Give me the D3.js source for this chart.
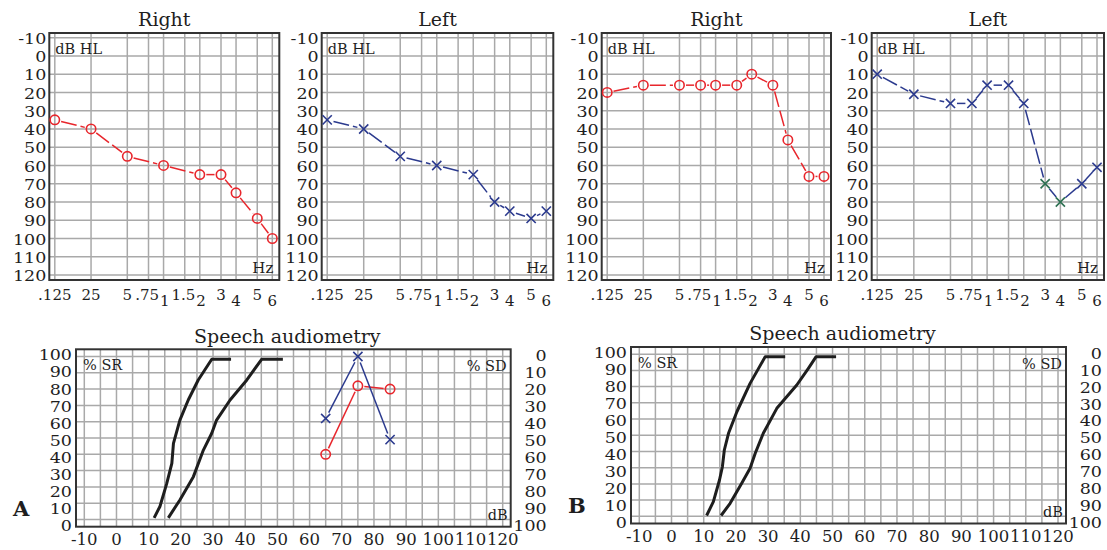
<!DOCTYPE html>
<html>
<head>
<meta charset="utf-8">
<script src="https://cdn.jsdelivr.net/npm/d3@7"></script>
<style>
  body { margin: 0; background: #fff; }
  svg { display: block; font-family: "DejaVu Serif", "Liberation Serif", serif; }
</style>
</head>
<body>
<svg id="chart" width="1107" height="550"></svg>
<script>
// ---- audiogram axes ----
const freqs = [0.125, 0.25, 0.5, 0.75, 1, 1.5, 2, 3, 4, 6, 8];
const freqLabels = [".125", "25", "5", ".75", "1", "1.5", "2", "3", "4", "5", "6"];
const freqLabelLow = [0, 0, 0, 0, 1, 0, 1, 0, 1, 0, 1];
const dbTicks = [-10, 0, 10, 20, 30, 40, 50, 60, 70, 80, 90, 100, 110, 120];

// ---- pure tone thresholds (dB HL) ----
const rightA_freq = [0.125, 0.25, 0.5, 1, 2, 3, 4, 6, 8];
const rightA_db   = [35, 40, 55, 60, 65, 65, 75, 89, 100];
const leftA_freq  = [0.125, 0.25, 0.5, 1, 2, 3, 4, 6, 8];
const leftA_db    = [35, 40, 55, 60, 65, 80, 85, 89, 85];
const rightB_freq = [0.125, 0.25, 0.5, 0.75, 1, 1.5, 2, 3, 4, 6, 8];
const rightB_db   = [20, 16, 16, 16, 16, 16, 10, 16, 46, 66, 66];
const leftB_freq  = [0.125, 0.25, 0.5, 0.75, 1, 1.5, 2, 3, 4, 6, 8];
const leftB_db    = [10, 21, 26, 26, 16, 16, 26, 70, 80, 70, 61];
const leftB_green = [0, 0, 0, 0, 0, 0, 0, 1, 1, 0, 0];

// ---- speech audiometry ----
const speechTicksX = [-10, 0, 10, 20, 30, 40, 50, 60, 70, 80, 90, 100, 110, 120];
const speechTicksY = [0, 10, 20, 30, 40, 50, 60, 70, 80, 90, 100];
const speechA_db      = [65, 75, 85];
const speechA_right   = [40, 82, 80];   // % SR, red
const speechA_left    = [62, 100, 49];  // % SR, blue

// reference curves (dB, %)
const normA1_db  = [11.7, 13.5, 15.6, 17.2, 17.7, 19.7, 22.3, 25.4, 29.6, 35.6];
const normA1_pct = [1, 8, 22, 34.5, 46.7, 61, 73.3, 85.6, 98.3, 98.3];
const normA2_db  = [16.1, 19.7, 23.9, 27, 29.6, 31.1, 35.3, 40.5, 45.1, 51.7];
const normA2_pct = [1, 12, 26.3, 42.6, 52.9, 61, 73.3, 85.6, 98.3, 98.3];
const normB1_db  = [10.9, 13, 14.9, 15.8, 16.4, 17.7, 20.3, 24.4, 29.1, 35.3];
const normB1_pct = [0.5, 9, 22.4, 30.6, 40.9, 51.2, 64.5, 82, 98.5, 98.5];
const normB2_db  = [15.4, 18.2, 21.8, 24.4, 26, 28.5, 32.7, 38.9, 42.5, 44.9, 51.1];
const normB2_pct = [0.5, 8, 20.4, 29.6, 38.9, 51.2, 66.6, 81, 91.3, 98.5, 98.5];

const RED = "#e8262c", BLUE = "#2b3a8e", GREEN = "#2d7052";
const GRID = "#a9a9a9", FRAME = "#333", INK = "#1e1e1e";

const svg = d3.select("#chart");

// segments between points, cut back near the markers
function gapped(pts, gap) {
  const segs = [];
  for (let i = 1; i < pts.length; i++) {
    const [ax, ay] = pts[i - 1], [bx, by] = pts[i];
    const dx = bx - ax, dy = by - ay, L = Math.hypot(dx, dy);
    if (L <= 2 * gap) continue;
    const ux = dx / L, uy = dy / L;
    segs.push([ax + ux * gap, ay + uy * gap, bx - ux * gap, by - uy * gap]);
  }
  return segs;
}

function drawSeries(g, pts, kind, dash, colors) {
  const col = kind === "o" ? RED : BLUE;
  g.append("g").selectAll("line").data(gapped(pts, 6.5)).join("line")
    .attr("x1", d => d[0]).attr("y1", d => d[1])
    .attr("x2", d => d[2]).attr("y2", d => d[3])
    .attr("stroke", col).attr("stroke-width", 1.5)
    .attr("stroke-dasharray", dash);
  const m = g.append("g").selectAll("g").data(pts).join("g")
    .attr("transform", d => `translate(${d[0]},${d[1]})`);
  if (kind === "o") {
    m.append("circle").attr("r", 4.7).attr("fill", "none")
      .attr("stroke", RED).attr("stroke-width", 1.6);
  } else {
    m.append("path").attr("d", "M-4.6,-4.6L4.6,4.6M-4.6,4.6L4.6,-4.6")
      .attr("fill", "none")
      .attr("stroke", (d, i) => colors && colors[i] ? GREEN : BLUE)
      .attr("stroke-width", 1.6);
  }
}

// ---- top: pure tone audiograms ----
const TOP = 33, BOT = 280;
const audioPanels = [
  { title: "Right", left: 49.3,  right: 279.3, f: rightA_freq, v: rightA_db, kind: "o" },
  { title: "Left",  left: 321.7, right: 553.3, f: leftA_freq,  v: leftA_db,  kind: "x" },
  { title: "Right", left: 601.7, right: 831,   f: rightB_freq, v: rightB_db, kind: "o" },
  { title: "Left",  left: 871.7, right: 1104,  f: leftB_freq,  v: leftB_db,  kind: "x", green: leftB_green }
];
// small nudges so crowded labels don't collide
const labelNudge = [0, 0, 0, -1.3, 1.3, -1.3, 1.3, 0, 0, 0, 0];

audioPanels.forEach(p => {
  const g = svg.append("g");
  const x = d3.scaleLog().domain([0.125, 8]).range([p.left + 5.5, p.right - 7]);
  const y = d3.scaleLinear().domain([-10, 120]).range([TOP + 4.7, BOT - 5]);

  g.append("g").selectAll("line").data(freqs).join("line")
    .attr("x1", d => x(d)).attr("x2", d => x(d)).attr("y1", TOP).attr("y2", BOT)
    .attr("stroke", GRID).attr("stroke-width", 1.5);
  g.append("g").selectAll("line").data(dbTicks).join("line")
    .attr("x1", p.left).attr("x2", p.right).attr("y1", d => y(d)).attr("y2", d => y(d))
    .attr("stroke", GRID).attr("stroke-width", 1.5);
  g.append("rect").attr("x", p.left).attr("y", TOP)
    .attr("width", p.right - p.left).attr("height", BOT - TOP)
    .attr("fill", "none").attr("stroke", FRAME).attr("stroke-width", 2);

  // y labels (plain hyphen, slightly squeezed like the print)
  const ya = g.append("g").attr("transform", `translate(${p.left - 3},0)`)
    .call(d3.axisLeft(y).tickValues(dbTicks).tickSize(0).tickPadding(0)
      .tickFormat(d => String(d)));
  ya.select(".domain").remove();
  ya.attr("font-family", null).attr("font-size", 17.5);
  ya.selectAll("text").attr("fill", INK).attr("dy", "0.36em")
    .attr("transform", "scale(1,0.88)");

  // x labels, staggered
  g.append("g").selectAll("text").data(freqs).join("text")
    .attr("x", (d, i) => x(d) + labelNudge[i])
    .attr("y", (d, i) => freqLabelLow[i] ? 306 : 300)
    .attr("text-anchor", "middle").attr("font-size", 15).attr("fill", INK)
    .text((d, i) => freqLabels[i]);

  g.append("text").attr("x", (p.left + p.right) / 2).attr("y", 26)
    .attr("text-anchor", "middle").attr("font-size", 19).attr("fill", INK).text(p.title);
  g.append("text").attr("x", p.left + 6).attr("y", TOP + 21)
    .attr("font-size", 14.5).attr("fill", INK).text("dB HL");
  g.append("text").attr("x", p.right - 6).attr("y", BOT - 7)
    .attr("text-anchor", "end").attr("font-size", 15).attr("fill", INK).text("Hz");

  const pts = p.f.map((f, i) => [x(f), y(p.v[i])]);
  drawSeries(g, pts, p.kind, "16,4", p.green);
});

// ---- bottom: speech audiometry ----
const speechPanels = [
  { letter: "A", left: 76,  right: 510.7, top: 349.3, bottom: 526.7,
    norms: [[normA1_db, normA1_pct], [normA2_db, normA2_pct]], results: true },
  { letter: "B", left: 631, right: 1066,  top: 347,   bottom: 523.5,
    norms: [[normB1_db, normB1_pct], [normB2_db, normB2_pct]], results: false }
];

speechPanels.forEach(p => {
  const g = svg.append("g");
  const x = d3.scaleLinear().domain([-10, 120]).range([p.left + 8.3, p.right - 8]);
  const y = d3.scaleLinear().domain([0, 100]).range([p.bottom - 7.2, p.top + 7.2]);
  const yl = d3.scaleLinear().domain([0, 100]).range([p.bottom - 0.5, p.top + 6]);
  const yr = d3.scaleLinear().domain([0, 100]).range([p.top + 7, p.bottom - 1]);

  g.append("g").selectAll("line").data(d3.range(-10, 121, 5)).join("line")
    .attr("x1", d => x(d)).attr("x2", d => x(d)).attr("y1", p.top).attr("y2", p.bottom)
    .attr("stroke", GRID).attr("stroke-width", 1.5);
  g.append("g").selectAll("line").data(speechTicksY).join("line")
    .attr("x1", p.left).attr("x2", p.right).attr("y1", d => y(d)).attr("y2", d => y(d))
    .attr("stroke", GRID).attr("stroke-width", 1.5);
  g.append("rect").attr("x", p.left).attr("y", p.top)
    .attr("width", p.right - p.left).attr("height", p.bottom - p.top)
    .attr("fill", "none").attr("stroke", FRAME).attr("stroke-width", 2);

  // axes labels
  g.append("g").selectAll("text").data(speechTicksX).join("text")
    .attr("x", d => x(d)).attr("y", p.bottom + 18.5)
    .attr("text-anchor", "middle").attr("font-size", 16.5).attr("fill", INK)
    .text(d => String(d));
  g.append("g").selectAll("text").data(speechTicksY).join("text")
    .attr("transform", d => `translate(${p.left - 4},${yl(d)}) scale(1,0.8)`)
    .attr("dy", "0.36em")
    .attr("text-anchor", "end").attr("font-size", 17.5).attr("fill", INK).text(d => d);
  g.append("g").selectAll("text").data(speechTicksY).join("text")
    .attr("transform", d => `translate(${p.right + 36},${yr(d)}) scale(1,0.8)`)
    .attr("dy", "0.36em")
    .attr("text-anchor", "end").attr("font-size", 17.5).attr("fill", INK).text(d => d);

  g.append("text").attr("x", (p.left + p.right) / 2 - 6).attr("y", p.top - 6.6)
    .attr("text-anchor", "middle").attr("font-size", 19).attr("fill", INK)
    .text("Speech audiometry");
  g.append("text").attr("x", p.left + 7).attr("y", p.top + 21)
    .attr("font-size", 14.5).attr("fill", INK).text("% SR");
  g.append("text").attr("x", p.right - 4).attr("y", p.top + 22)
    .attr("text-anchor", "end").attr("font-size", 14.5).attr("fill", INK).text("% SD");
  g.append("text").attr("x", p.right - 3).attr("y", p.bottom - 7)
    .attr("text-anchor", "end").attr("font-size", 14.5).attr("fill", INK).text("dB");
  g.append("text").attr("x", p.left - 63).attr("y", p.bottom - 10.5)
    .attr("font-size", 21).attr("font-weight", "bold").attr("fill", INK).text(p.letter);

  const line = d3.line().x(d => x(d[0])).y(d => y(d[1]));
  p.norms.forEach(([db, pct]) => {
    g.append("path").datum(db.map((d, i) => [d, pct[i]]))
      .attr("d", line).attr("fill", "none")
      .attr("stroke", INK).attr("stroke-width", 3)
      .attr("stroke-linejoin", "round").attr("stroke-linecap", "butt");
  });

  if (p.results) {
    drawSeries(g, speechA_db.map((d, i) => [x(d), y(speechA_right[i])]), "o", null);
    drawSeries(g, speechA_db.map((d, i) => [x(d), y(speechA_left[i])]), "x", null);
  }
});
</script>
</body>
</html>
